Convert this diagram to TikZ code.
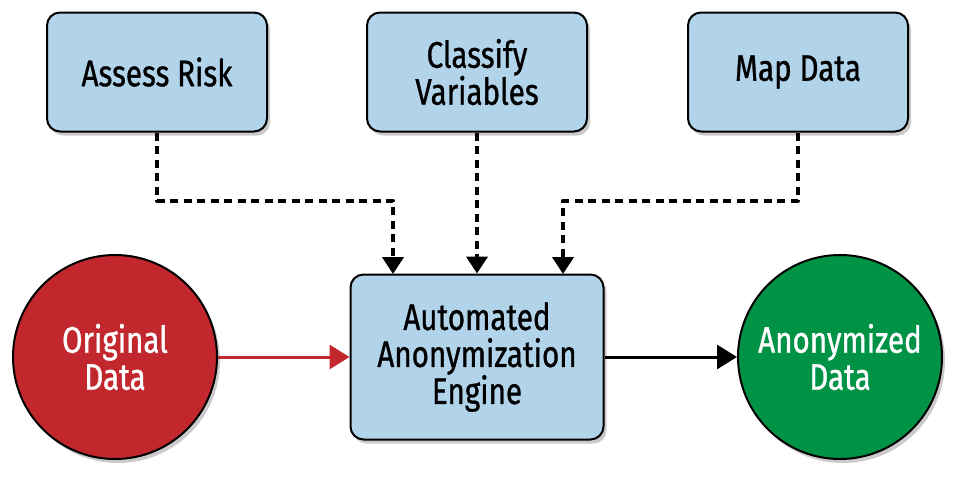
\documentclass[tikz,border=0pt]{standalone}
\usepackage{fontspec}
\setmainfont{Fira Sans}
\newfontfamily\lblfont[FakeStretch=0.8,FakeBold=0.9]{Fira Sans}
\usetikzlibrary{arrows.meta,shadows,calc}
\definecolor{boxblue}{HTML}{B2D4EA}
\definecolor{origred}{HTML}{C1272D}
\definecolor{anongreen}{HTML}{009245}
\tikzset{
  lbl/.style={font=\lblfont\fontsize{37}{37}\selectfont},
  stepbox/.style={draw=black, line width=2pt, fill=boxblue, rounded corners=13pt,
    minimum width=220pt, minimum height=119pt, align=center, inner sep=0pt, lbl,
    drop shadow={shadow xshift=3pt, shadow yshift=-4pt, opacity=0.35, fill=black!60}},
  datacircle/.style={circle, draw=black, line width=2pt, minimum size=204pt, inner sep=0pt,
    align=center, text=white, lbl,
    drop shadow={shadow xshift=3pt, shadow yshift=-4pt, opacity=0.35, fill=black!60}},
  dashlink/.style={line width=4pt, dash pattern=on 8pt off 5.5pt, line join=round,
    -{Triangle[length=17pt,width=21pt]}},
  solidlink/.style={line width=3pt, -{Triangle[length=20pt,width=24pt]}}
}
\begin{document}
\begin{tikzpicture}[x=1pt,y=-1pt]
\useasboundingbox (0,0) rectangle (968,485);
\node[stepbox] (ar) at (157,72) {Assess Risk};
\node[stepbox] (cv) at (477,72) {Classify\\Variables};
\node[stepbox] (md) at (798,72) {Map Data};
\node[stepbox, minimum width=253pt, minimum height=165pt] (eng) at (477,357) {Automated\\Anonymization\\Engine};
\node[datacircle, fill=origred] (od) at (115,357) {Original\\Data};
\node[datacircle, fill=anongreen] (ad) at (840,357) {Anonymized\\Data};
\coordinate (e1) at (393,274);
\coordinate (e3) at (563,274);
\draw[dashlink] (ar.south) -- ++(0,68) -| (e1);
\draw[dashlink] (cv.south) -- (eng.north);
\draw[dashlink] (md.south) -- ++(0,68) -| (e3);
\draw[solidlink, draw=origred, fill=origred] (od.east) -- (eng.west);
\draw[solidlink] (eng.east) -- (ad.west);
\end{tikzpicture}
\end{document}
